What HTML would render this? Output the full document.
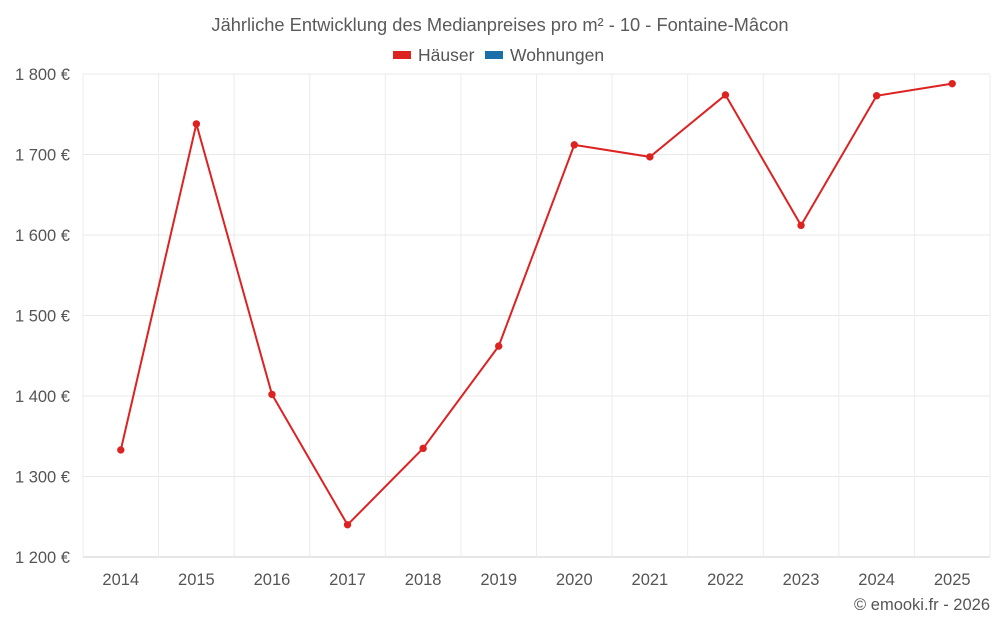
<!DOCTYPE html>
<html><head><meta charset="utf-8"><style>
body{margin:0;background:#fff;font-family:"Liberation Sans",sans-serif;}
svg{display:block}
</style></head><body>
<svg id="chart" width="1000" height="625">
<text x="500" y="31" text-anchor="middle" font-size="18.3" fill="#5a5a5a">Jährliche Entwicklung des Medianpreises pro m² - 10 - Fontaine-Mâcon</text>
<g>
<g><rect x="393" y="51" width="18" height="8" fill="#dd2222"/><text x="418" y="61" font-size="17.5" fill="#555">Häuser</text></g>
<g><rect x="485" y="51" width="18" height="8" fill="#1a6fa8"/><text x="510" y="61" font-size="17.5" fill="#555">Wohnungen</text></g>
</g>
<g id="grid"></g><g id="axes"></g><g id="series"></g>
<text x="990" y="610" text-anchor="end" font-size="16.5" fill="#555">© emooki.fr - 2026</text>
</svg>
<script>
const categories=["2014","2015","2016","2017","2018","2019","2020","2021","2022","2023","2024","2025"];
const haeuser=[1333,1738,1402,1240,1335,1462,1712,1697,1774,1612,1773,1788];
const yTicks=[1200,1300,1400,1500,1600,1700,1800];
const yTickLabels=["1 200 €","1 300 €","1 400 €","1 500 €","1 600 €","1 700 €","1 800 €"];
const L=83,R=990,T=74,B=557,yMin=1200,yMax=1800;
const NS="http://www.w3.org/2000/svg";
const step=(R-L)/categories.length;
function x(i){return L+step*(i+0.5);}
function y(v){return B-(v-yMin)/(yMax-yMin)*(B-T);}
function mk(t,a,p){const e=document.createElementNS(NS,t);for(const k in a)e.setAttribute(k,a[k]);p.appendChild(e);return e;}
const g=document.getElementById('grid'),ax=document.getElementById('axes'),s=document.getElementById('series');
yTicks.forEach((v,i)=>{
 const l=mk('line',{x1:L,x2:R,y1:y(v),y2:y(v),stroke:v===yMin?'#ccc':'#e8e8e8'},g);
 
 
 const t=mk('text',{x:70,y:y(v)+6,'text-anchor':'end','font-size':16.5,fill:'#555'},ax);
 t.textContent=yTickLabels[i];
 
 
});
for(let i=0;i<=categories.length;i++){
 const l=mk('line',{x1:L+step*i,x2:L+step*i,y1:T,y2:B,stroke:'#ececec'},g);
 
 
}
categories.forEach((c,i)=>{
 const t=mk('text',{x:x(i),y:585,'text-anchor':'middle','font-size':16.5,fill:'#555'},ax);
 t.textContent=c;
 
 
});
const pl=mk('polyline',{points:haeuser.map((v,i)=>x(i)+','+y(v)).join(' '),fill:'none',stroke:'#dd2222','stroke-width':2},s);


haeuser.forEach((v,i)=>{
 const c=mk('circle',{cx:x(i),cy:y(v),r:3.7,fill:'#dd2222'},s);
 
 
});
</script>
</body></html>
